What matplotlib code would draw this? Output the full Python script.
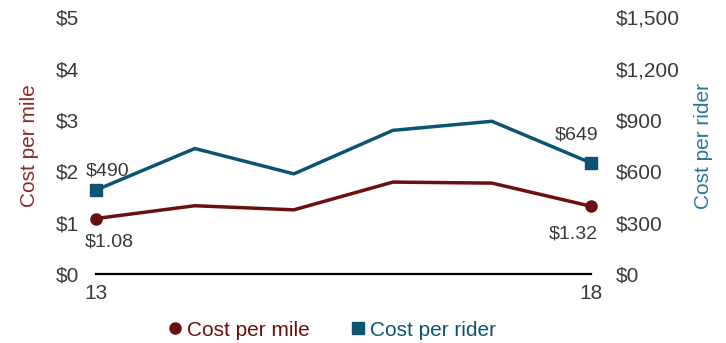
import matplotlib.pyplot as plt
from matplotlib.lines import Line2D

plt.rcParams['font.family'] = ['Liberation Sans', 'DejaVu Sans']

years = [13, 14, 15, 16, 17, 18]
cost_per_mile = [1.08, 1.33, 1.25, 1.79, 1.77, 1.32]
cost_per_rider = [490, 733, 585, 839, 892, 649]
left_ticks = [0, 1, 2, 3, 4, 5]
right_ticks = [0, 300, 600, 900, 1200, 1500]

maroon = '#6b0f10'
teal = '#0b5573'
maroon_lbl = '#8c2a2a'
teal_lbl = '#2a7896'
grey = '#3a3a3a'

fig = plt.figure(figsize=(7.26, 3.43), dpi=100)
ax = fig.add_axes([0.132, 0.201, 0.682, 0.749])
ax2 = ax.twinx()

ax.plot(years, cost_per_mile, color=maroon, lw=2.5, marker='o', ms=8,
        markevery=[0, len(years) - 1], zorder=3, clip_on=False)
ax2.plot(years, cost_per_rider, color=teal, lw=2.5, marker='s', ms=9,
         markevery=[0, len(years) - 1], zorder=3, clip_on=False)
ax.axhline(0, color='black', lw=1.6, clip_on=False)

ax.set_xlim(13, 18)
ax.set_ylim(0, 5)
ax2.set_ylim(0, 1500)
ax.set_xticks([13, 18])
ax.set_xticklabels(['13', '18'])
ax.set_yticks(left_ticks)
ax.set_yticklabels(['$%d' % v for v in left_ticks])
ax2.set_yticks(right_ticks)
ax2.set_yticklabels(['${:,}'.format(v) for v in right_ticks])

for a in (ax, ax2):
    for s in a.spines.values():
        s.set_visible(False)
    a.tick_params(length=0, labelsize=15, labelcolor=grey)
ax.tick_params(axis='y', pad=12)
ax.tick_params(axis='x', pad=7)
ax2.tick_params(axis='y', pad=18)

ax.set_ylabel('Cost per mile', color=maroon_lbl, fontsize=15, labelpad=12)
ax2.set_ylabel('Cost per rider', color=teal_lbl, fontsize=15, labelpad=10)

# end labels
ax.annotate('$%.2f' % cost_per_mile[0], (years[0], cost_per_mile[0]),
            xytext=(-8, -11), textcoords='offset points', ha='left', va='top',
            fontsize=14, color=grey)
ax.annotate('$%.2f' % cost_per_mile[-1], (years[-1], cost_per_mile[-1]),
            xytext=(5, -14), textcoords='offset points', ha='right', va='top',
            fontsize=14, color=grey)
ax2.annotate('$%d' % cost_per_rider[0], (years[0], cost_per_rider[0]),
             xytext=(-7, 8), textcoords='offset points', ha='left', va='bottom',
             fontsize=14, color=grey)
ax2.annotate('$%d' % cost_per_rider[-1], (years[-1], cost_per_rider[-1]),
             xytext=(5, 14), textcoords='offset points', ha='right', va='bottom',
             fontsize=14, color=grey)

handles = [Line2D([], [], color=maroon, marker='o', ls='', ms=8),
           Line2D([], [], color=teal, marker='s', ls='', ms=8)]
leg = fig.legend(handles, ['Cost per mile', 'Cost per rider'], loc='lower center',
                 bbox_to_anchor=(0.455, -0.045), ncol=2, frameon=False, fontsize=15,
                 handletextpad=0.1, columnspacing=1.8, handlelength=1)
for t, c in zip(leg.get_texts(), [maroon, teal]):
    t.set_color(c)

fig.savefig('out.png', dpi=100)
